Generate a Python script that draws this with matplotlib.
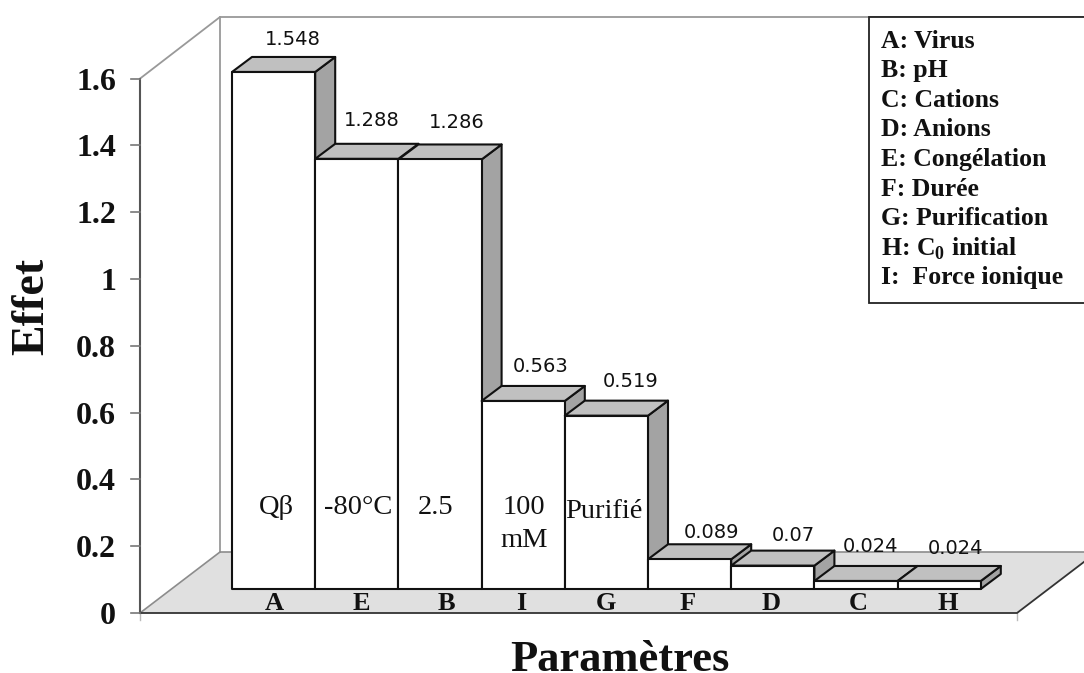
import matplotlib
matplotlib.use("Agg")
import matplotlib.pyplot as plt
from matplotlib.patches import Polygon, Rectangle

plt.rcParams['font.family'] = ['Liberation Serif', 'DejaVu Serif']
plt.rcParams['mathtext.fontset'] = 'custom'
plt.rcParams['mathtext.bf'] = 'Liberation Serif:bold'
plt.rcParams['mathtext.rm'] = 'Liberation Serif'

categories = ["A", "E", "B", "I", "G", "F", "D", "C", "H"]
effects = [1.548, 1.288, 1.286, 0.563, 0.519, 0.089, 0.07, 0.024, 0.024]
value_labels = ["1.548", "1.288", "1.286", "0.563", "0.519", "0.089", "0.07", "0.024", "0.024"]
inner_labels = ["Qβ", "-80°C", "2.5", "100\nmM", "Purifié", "", "", "", ""]
y_ticks = [0, 0.2, 0.4, 0.6, 0.8, 1, 1.2, 1.4, 1.6]
y_tick_labels = ["0", "0.2", "0.4", "0.6", "0.8", "1", "1.2", "1.4", "1.6"]
legend_lines = ["A: Virus", "B: pH", "C: Cations", "D: Anions", "E: Congélation", "F: Durée",
                "G: Purification", r"H: C$_{\mathbf{0}}$ initial", "I:  Force ionique"]

# pixel layout of the fake 3D box
W, H = 1084, 673
BAR_LEFT = 232
BAR_W = 83.2
BASE_Y = 589
PX_PER_UNIT = 334
DX, DY = 20, 15

# small nudges so the texts sit where they do in the picture (pixels)
cat_nudge = [1, 5, 6, -2, 0, -2, -2, 2, 9]
label_dx = [19, 15, 17, 17, 24, 22, 21, 15, 16]
label_up = [34, 40, 39, 36, 36, 29, 32, 36, 34]
inner_nudge = [3, 1, -4, 1, -3, 0, 0, 0, 0]
inner_y = [508, 508, 508, 524, 511, 0, 0, 0, 0]

fig = plt.figure(figsize=(W / 100, H / 100), dpi=100)

# frame axes in pixels: walls, floor, legend box
bg = fig.add_axes([0, 0, 1, 1])
bg.set_xlim(0, W)
bg.set_ylim(H, 0)
bg.axis('off')

ax_x = 140
back_x = 220
front_y = 613
floor_y = 552
top_y = 17
axis_top = front_y - 1.6 * PX_PER_UNIT
floor_right = 1017

bg.add_patch(Polygon([(ax_x, front_y), (back_x, floor_y), (floor_right + 80, floor_y), (floor_right, front_y)],
                     closed=True, facecolor='#e0e0e0', edgecolor='none', zorder=1))
bg.plot([ax_x, back_x, W], [axis_top, top_y, top_y], color='#999999', lw=1.3, zorder=2)
bg.plot([back_x, back_x], [top_y, floor_y], color='#999999', lw=1.3, zorder=2)
bg.plot([ax_x, back_x, W], [front_y, floor_y, floor_y], color='#8c8c8c', lw=1.2, zorder=2)
bg.plot([ax_x, ax_x], [axis_top, front_y], color='#555555', lw=1.5, zorder=3)
bg.plot([ax_x, floor_right, floor_right + 80], [front_y, front_y, floor_y], color='#333333', lw=1.3, zorder=3)
bg.plot([floor_right, floor_right], [front_y, front_y + 7], color='#bbbbbb', lw=1, zorder=2)
bg.plot([ax_x, ax_x], [front_y, front_y + 7], color='#bbbbbb', lw=1, zorder=2)

for t, lab in zip(y_ticks, y_tick_labels):
    ty = front_y - t * PX_PER_UNIT
    bg.plot([ax_x - 9, ax_x], [ty, ty], color='#777777', lw=1.2, zorder=3)
    bg.text(116, ty, lab, ha='right', va='center_baseline', fontsize=23, fontweight='bold', color='#111111')

bg.add_patch(Rectangle((869, 17), W - 869 + 5, 286, facecolor='white', edgecolor='#222222', lw=1.3, zorder=6))
for i, line in enumerate(legend_lines):
    bg.text(881, 39 + 29.5 * i, line, ha='left', va='center_baseline', fontsize=18.5, fontweight='bold',
            color='#111111', zorder=7)

bg.text(43, 306, "Effet", rotation=90, rotation_mode='anchor', ha='center', va='baseline',
        fontsize=33, fontweight='bold', color='#111111')
bg.text(620, 671, "Paramètres", ha='center', va='baseline', fontsize=32, fontweight='bold', color='#111111')

# bars in data units: x = rank of the parameter, y = effect
ax = fig.add_axes([0, 0, 1, 1], facecolor='none')
ax.set_xlim(-BAR_LEFT / BAR_W, (W - BAR_LEFT) / BAR_W)
ax.set_ylim((BASE_Y - H) / PX_PER_UNIT, BASE_Y / PX_PER_UNIT)
ax.axis('off')

dx = DX / BAR_W
dy = DY / PX_PER_UNIT
edge = dict(edgecolor='#111111', lw=1.5, joinstyle='round')

for i, (cat, v) in enumerate(zip(categories, effects)):
    ax.add_patch(Polygon([(i + 1, 0), (i + 1 + dx, dy), (i + 1 + dx, v + dy), (i + 1, v)],
                         facecolor='#a3a3a3', zorder=10 + i, **edge))
    ax.add_patch(Polygon([(i, v), (i + dx, v + dy), (i + 1 + dx, v + dy), (i + 1, v)],
                         facecolor='#c0c0c0', zorder=10 + i, **edge))
    ax.bar(i, v, width=1, align='edge', facecolor='white', zorder=10 + i, **edge)

    ax.text(i + 0.5 + cat_nudge[i] / BAR_W, -12 / PX_PER_UNIT, cat, ha='center', va='center_baseline',
            fontsize=19, fontweight='bold', color='#111111', zorder=30)
    ax.text(i + label_dx[i] / BAR_W + 0.5, v + label_up[i] / PX_PER_UNIT, value_labels[i], ha='center',
            va='center_baseline', fontsize=14, family='DejaVu Sans', color='#111111', zorder=30)
    if inner_labels[i]:
        ax.text(i + 0.5 + inner_nudge[i] / BAR_W, (BASE_Y - inner_y[i]) / PX_PER_UNIT, inner_labels[i],
                ha='center', va='center', fontsize=20.5, color='#111111', linespacing=1.4, zorder=30)

fig.savefig("out.png", dpi=100, facecolor='white')
